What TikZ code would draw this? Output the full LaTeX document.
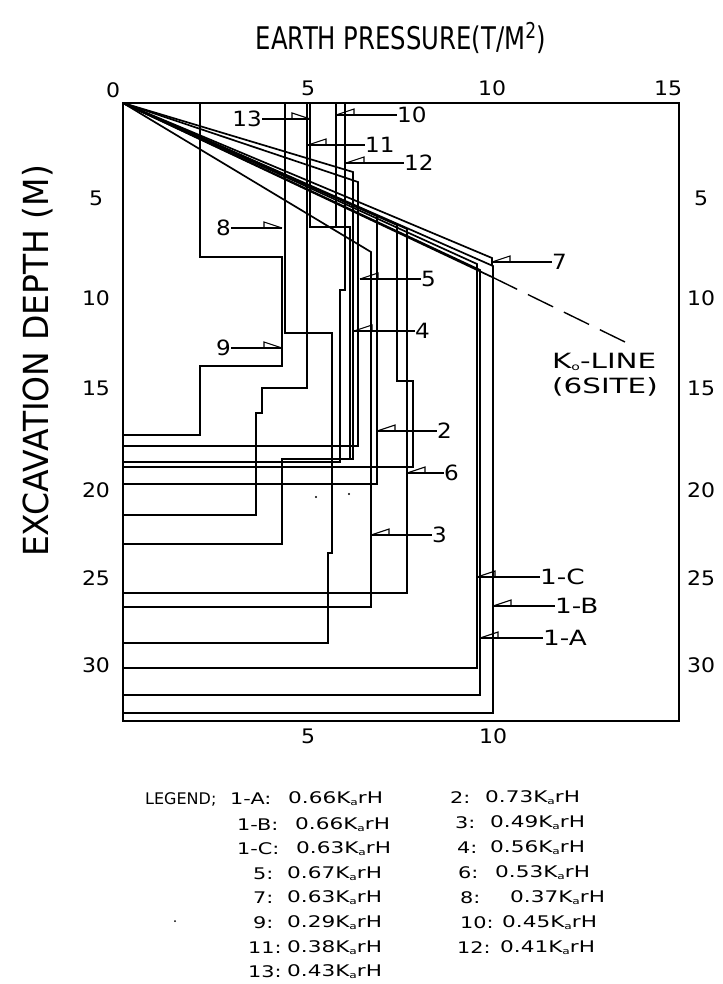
\documentclass[tikz,border=0pt]{standalone}
\usepackage{fontspec}
\setmainfont{DejaVu Sans}
\usetikzlibrary{calc}
\newcommand{\sx}[2]{\scalebox{#1}[1]{#2}}
\newcommand{\kr}{K\raisebox{-0.25ex}{\fontsize{9}{9}\selectfont a}rH}
\begin{document}
\begin{tikzpicture}[x=1pt,y=-1pt,
  frame/.style={line width=1.5pt},
  curve/.style={line width=1.7pt, line join=miter},
  lead/.style={line width=1.3pt},
  num/.style={font=\fontsize{20}{20}\selectfont, inner sep=0pt},
  lab/.style={font=\fontsize{21}{21}\selectfont, inner sep=0pt},
  leg/.style={font=\fontsize{16}{16}\selectfont, inner sep=0pt, anchor=west},
  flag/.style={line width=1.1pt}]
\useasboundingbox (0,0) rectangle (722,984);
% titles
\node[inner sep=0pt, font=\fontsize{26}{26}\selectfont] (title) at (401,38) {\scalebox{0.935}[1.2]{EARTH PRESSURE(T/M\textsuperscript{2})}};
\node[inner sep=0pt, rotate=90, font=\fontsize{30}{30}\selectfont] (ytitle) at (38,361) {\scalebox{1.1}[1.15]{EXCAVATION DEPTH (M)}};
% frame
\coordinate (O) at (123,103);
\draw[frame] (O) rectangle (679,721);
% axis numbers
\node[num] (t0) at (113,90) {\sx{1.1}{0}};
\node[num] (t5) at (308,88) {\sx{1.1}{5}};
\node[num] (t10) at (492,88) {\sx{1.1}{10}};
\node[num] (t15) at (668,88) {\sx{1.1}{15}};
\node[num] (b5) at (308,736) {\sx{1.1}{5}};
\node[num] (b10) at (493,736) {\sx{1.1}{10}};
\foreach \v/\yy in {5/198,10/298,15/388,20/490,25/578,30/665}{
  \node[num] (l\v) at (96,\yy) {\sx{1.1}{\v}};
  \node[num] (r\v) at (701,\yy) {\sx{1.1}{\v}};
}
% top-started curves
\draw[curve] (200,103) -- (200,257) -- (282,257) -- (282,366) -- (200,366) -- (200,435) -- (123,435);
\draw[curve] (285,103) -- (285,333) -- (332,333) -- (332,553) -- (328,553) -- (328,643) -- (123,643);
\draw[curve] (307,103) -- (307,388) -- (262,388) -- (262,413) -- (256,413) -- (256,515) -- (123,515);
\draw[curve] (310,103) -- (310,227) -- (350,227) -- (350,459);
\draw[curve] (336,103) -- (336,227);
\draw[curve] (345,103) -- (345,290) -- (340,290) -- (340,462) -- (123,462);
% diagonal curves
\draw[curve] (O) -- (353,172) -- (353,459) -- (282,459) -- (282,544) -- (123,544);
\draw[curve] (O) -- (358,182) -- (358,446) -- (123,446);
\draw[curve] (O) -- (371,252) -- (371,607) -- (123,607);
\draw[curve] (O) -- (377,216) -- (377,484) -- (123,484);
\draw[curve] (O) -- (397,225) -- (397,381) -- (413,381) -- (413,467) -- (123,467);
\draw[curve] (O) -- (407,229) -- (407,593) -- (123,593);
\draw[curve] (O) -- (477,264) -- (477,668) -- (123,668);
\draw[curve] (O) -- (480,270) -- (480,695) -- (123,695);
\draw[curve] (O) -- (493,266) -- (493,713) -- (123,713);
\draw[curve] (O) -- (492,258) -- (492,266);
\draw[curve] (O) -- (492,277) coordinate (k0a);
\coordinate (k0b) at (625,342);
\draw[line width=1.4pt, dash pattern=on 28pt off 12pt] (k0a) -- (k0b);
% K0 label
\node[lab, anchor=west] (k0l1) at (552,362) {\sx{1.4}{K\raisebox{-0.15ex}{\fontsize{10}{10}\selectfont o}-LINE}};
\node[lab, anchor=west] (k0l2) at (552,387) {\sx{1.4}{(6SITE)}};
% right-side labels (tip on left)
\foreach \n/\tx/\ty/\lx/\txt in {
  a10/336/115/397/10, a11/308/145/365/11, a12/346/163/404/12,
  a7/492/262/552/7, a5/360/279/421/5, a4/354/331/415/4,
  a2/377/431/437/2, a6/407/473/444/6, a3/371/535/432/3}{
  \coordinate (\n tip) at (\tx,\ty);
  \node[lab, anchor=west] (\n) at (\lx,\ty) {\sx{1.1}{\txt}};
  \draw[lead] (\n tip) -- (\n.west);
  \draw[flag] (\n tip) -- ++(18,-6) -- ++(0,6);
}
\foreach \n/\tx/\ty/\lx/\txt in {
  a1C/477/577/540/1-C, a1B/493/606/555/1-B, a1A/480/638/543/1-A}{
  \coordinate (\n tip) at (\tx,\ty);
  \node[lab, anchor=west] (\n) at (\lx,\ty) {\sx{1.25}{\txt}};
  \draw[lead] (\n tip) -- (\n.west);
  \draw[flag] (\n tip) -- ++(18,-6) -- ++(0,6);
}
% left-side labels (tip on right)
\foreach \n/\tx/\ty/\lx/\txt in {a13/310/119/262/13, a8/282/228/231/8, a9/282/348/231/9}{
  \coordinate (\n tip) at (\tx,\ty);
  \node[lab, anchor=east] (\n) at (\lx,\ty) {\sx{1.1}{\txt}};
  \draw[lead] (\n.east) -- (\n tip);
  \draw[flag] (\n tip) -- ++(-18,-6) -- ++(0,6);
}
% specks
\fill (316,497) circle (1.2);
\fill (349,494) circle (1.2);
\fill (175,921) circle (1);
% legend
\node[leg] (legt) at (145,799) {LEGEND;};
\foreach \n/\lx/\vx/\yy/\a/\b in {
  1A/230/288/799/1-A/0.66, 1B/237/295/825/1-B/0.66, 1C/237/296/849/1-C/0.63,
  5/253/287/874/5/0.67, 7/253/287/898/7/0.63, 9/253/287/923/9/0.29,
  11/248/287/948/11/0.38, 13/248/287/972/13/0.43,
  2/450/485/798/2/0.73, 3/455/490/823/3/0.49, 4/457/490/848/4/0.56,
  6/458/495/873/6/0.53, 8/460/510/898/8/0.37, 10/460/502/923/10/0.45,
  12/457/500/948/12/0.41}{
  \node[leg] (gk\n) at (\lx,\yy) {\sx{1.3}{\a:}};
  \node[leg] (gv\n) at (\vx,\yy) {\sx{1.35}{\b\kr}};
}
\end{tikzpicture}
\end{document}
